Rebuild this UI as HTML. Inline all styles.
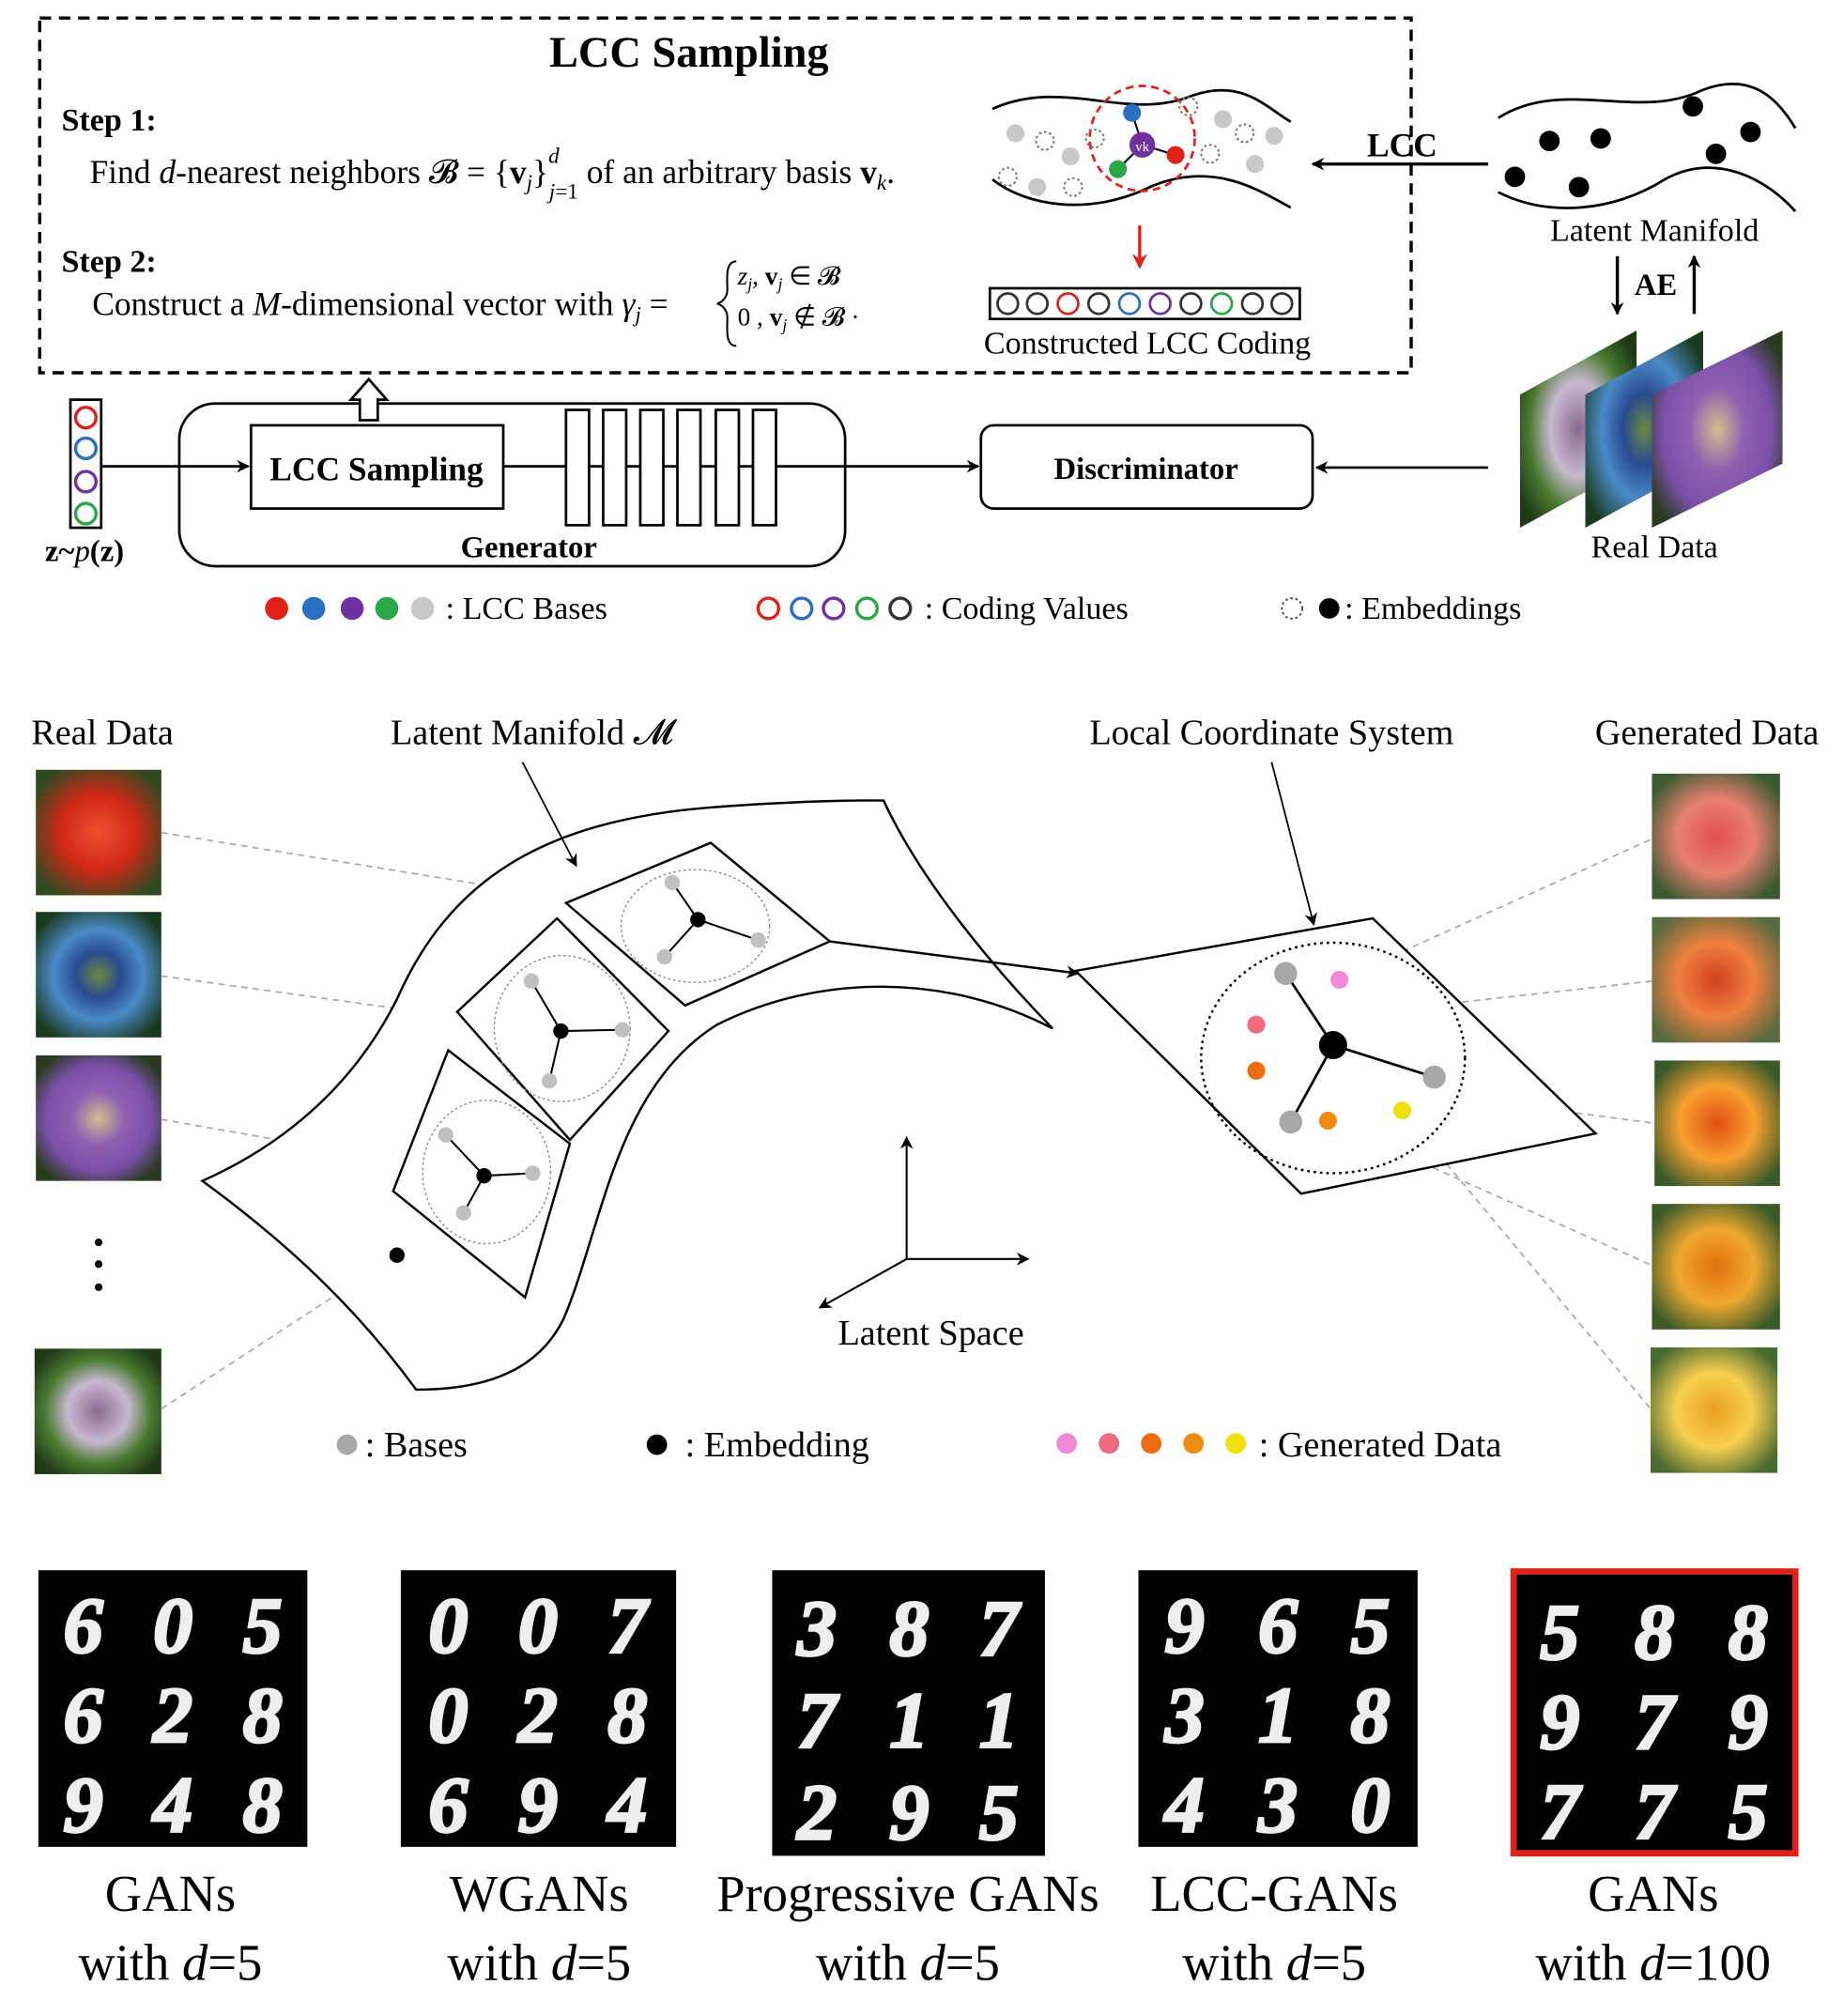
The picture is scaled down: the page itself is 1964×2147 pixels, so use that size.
<!DOCTYPE html>
<html><head><meta charset="utf-8"><style>
html,body{margin:0;padding:0;background:#fff;}
svg{display:block;}
text{font-family:"Liberation Serif",serif;}
</style></head><body>
<svg width="1964" height="2147" viewBox="0 0 1440 1574" xmlns="http://www.w3.org/2000/svg">
<defs>
<marker id="ah" markerWidth="10" markerHeight="10" refX="9" refY="5" orient="auto" markerUnits="userSpaceOnUse"><path d="M0,0 L10,5 L0,10 L3,5 z" fill="#000"/></marker>
<marker id="ahr" markerWidth="12" markerHeight="12" refX="10" refY="6" orient="auto" markerUnits="userSpaceOnUse"><path d="M0,0 L12,6 L0,12 L4,6 z" fill="#e0201a"/></marker>
<radialGradient id="fr" cx="50%" cy="50%" r="60%"><stop offset="0" stop-color="#f05030"/><stop offset="0.5" stop-color="#d02818"/><stop offset="1" stop-color="#2f4a20"/></radialGradient>
<radialGradient id="fb" cx="50%" cy="50%" r="60%"><stop offset="0" stop-color="#6a8a40"/><stop offset="0.3" stop-color="#2a4a90"/><stop offset="0.6" stop-color="#4a8ac8"/><stop offset="1" stop-color="#1a3a20"/></radialGradient>
<radialGradient id="fp" cx="50%" cy="50%" r="60%"><stop offset="0" stop-color="#d0c090"/><stop offset="0.35" stop-color="#9060b0"/><stop offset="0.7" stop-color="#7a50a8"/><stop offset="1" stop-color="#2a3a20"/></radialGradient>
<radialGradient id="fg" cx="50%" cy="50%" r="60%"><stop offset="0" stop-color="#8a6a90"/><stop offset="0.4" stop-color="#c8b8d0"/><stop offset="0.7" stop-color="#4a7a30"/><stop offset="1" stop-color="#203a18"/></radialGradient>
<radialGradient id="g1" cx="50%" cy="50%" r="60%"><stop offset="0" stop-color="#e05050"/><stop offset="0.5" stop-color="#e88070"/><stop offset="1" stop-color="#3a5a30"/></radialGradient>
<radialGradient id="g2" cx="50%" cy="50%" r="60%"><stop offset="0" stop-color="#d04020"/><stop offset="0.5" stop-color="#f08040"/><stop offset="1" stop-color="#5a6a40"/></radialGradient>
<radialGradient id="g3" cx="50%" cy="50%" r="60%"><stop offset="0" stop-color="#e05010"/><stop offset="0.5" stop-color="#f8a030"/><stop offset="1" stop-color="#3a5a28"/></radialGradient>
<radialGradient id="g4" cx="50%" cy="50%" r="60%"><stop offset="0" stop-color="#e07010"/><stop offset="0.5" stop-color="#f0a830"/><stop offset="1" stop-color="#3a5a28"/></radialGradient>
<radialGradient id="g5" cx="50%" cy="50%" r="60%"><stop offset="0" stop-color="#e8a020"/><stop offset="0.5" stop-color="#f8d050"/><stop offset="1" stop-color="#4a6a30"/></radialGradient>
</defs>

<rect x="31" y="14" width="1071" height="277" fill="none" stroke="#000" stroke-width="2.5" stroke-dasharray="9,6"/>
<text x="538" y="52" font-size="34" font-weight="bold" text-anchor="middle">LCC Sampling</text>
<text x="48" y="102" font-size="25" font-weight="bold">Step 1:</text>
<text x="70" y="143" font-size="26">Find <tspan font-style="italic">d</tspan>-nearest neighbors 𝓑 = {<tspan font-weight="bold">v</tspan><tspan font-size="17" dy="5" font-style="italic">j</tspan><tspan dy="-5">}</tspan><tspan font-size="17" dy="-16" font-style="italic">d</tspan><tspan font-size="17" dx="-8" dy="28"><tspan font-style="italic">j</tspan>=1</tspan><tspan dy="-12"> of an arbitrary basis </tspan><tspan font-weight="bold">v</tspan><tspan font-size="17" dy="5" font-style="italic">k</tspan><tspan dy="-5">.</tspan></text>
<text x="48" y="212" font-size="25" font-weight="bold">Step 2:</text>
<text x="72" y="246" font-size="26">Construct a <tspan font-style="italic">M</tspan>-dimensional vector with <tspan font-style="italic">γ</tspan><tspan font-size="17" dy="5" font-style="italic">j</tspan><tspan dy="-5"> = </tspan></text>
<path d="M575,204 C566,204 568,218 568,226 C568,232 564,236 560,237 C564,238 568,242 568,248 C568,256 566,270 575,270" fill="none" stroke="#000" stroke-width="1.5"/>
<text x="576" y="222" font-size="20"><tspan font-style="italic">z</tspan><tspan font-size="13" font-style="italic" dy="4">j</tspan><tspan dy="-4">, </tspan><tspan font-weight="bold">v</tspan><tspan font-size="13" font-style="italic" dy="4">j</tspan><tspan dy="-4"> ∈ 𝓑</tspan></text>
<text x="576" y="254" font-size="20">0 , <tspan font-weight="bold">v</tspan><tspan font-size="13" font-style="italic" dy="4">j</tspan><tspan dy="-4"> ∉ 𝓑  ·</tspan></text>

<g>
<path d="M775,85 C830,60 880,95 930,75 C970,60 990,85 1008,95" fill="none" stroke="#000" stroke-width="2"/>
<path d="M775,140 C800,160 850,170 900,145 C950,125 985,150 1008,162" fill="none" stroke="#000" stroke-width="2"/>
<circle cx="892" cy="108" r="41" fill="none" stroke="#e0201a" stroke-width="2" stroke-dasharray="6,4"/>
<g fill="#c8c8c8"><circle cx="793" cy="104" r="7"/><circle cx="836" cy="122" r="7"/><circle cx="810" cy="146" r="7"/><circle cx="955" cy="93" r="7"/><circle cx="995" cy="106" r="7"/><circle cx="980" cy="128" r="7"/></g>
<g fill="none" stroke="#777" stroke-width="1.5" stroke-dasharray="2,2"><circle cx="816" cy="110" r="7"/><circle cx="787" cy="138" r="7"/><circle cx="838" cy="146" r="7"/><circle cx="855" cy="108" r="7"/><circle cx="928" cy="83" r="7"/><circle cx="972" cy="104" r="7"/><circle cx="945" cy="120" r="7"/></g>
<line x1="884" y1="88" x2="892" y2="113" stroke="#000" stroke-width="1.5"/><line x1="873" y1="132" x2="892" y2="113" stroke="#000" stroke-width="1.5"/><line x1="918" y1="121" x2="892" y2="113" stroke="#000" stroke-width="1.5"/>
<circle cx="884" cy="88" r="7" fill="#2a6fc0"/><circle cx="873" cy="132" r="7" fill="#28a848"/><circle cx="918" cy="121" r="7" fill="#e0201a"/><circle cx="892" cy="113" r="10" fill="#7030a0"/>
<text x="892" y="118" font-size="11" fill="#fff" text-anchor="middle">vk</text>
</g>
<line x1="890" y1="176" x2="890" y2="208" stroke="#e0201a" stroke-width="2.5" marker-end="url(#ahr)"/>
<rect x="773" y="225" width="242" height="24" fill="#fff" stroke="#000" stroke-width="2"/>
<g fill="none" stroke-width="2">
<circle cx="787" cy="237" r="8" stroke="#333"/><circle cx="810" cy="237" r="8" stroke="#333"/><circle cx="834" cy="237" r="8" stroke="#e0201a"/><circle cx="858" cy="237" r="8" stroke="#333"/><circle cx="882" cy="237" r="8" stroke="#2a6fc0"/><circle cx="906" cy="237" r="8" stroke="#7030a0"/><circle cx="930" cy="237" r="8" stroke="#333"/><circle cx="954" cy="237" r="8" stroke="#28a848"/><circle cx="978" cy="237" r="8" stroke="#333"/><circle cx="1001" cy="237" r="8" stroke="#333"/>
</g>
<text x="896" y="276" font-size="25" text-anchor="middle">Constructed LCC Coding</text>
<line x1="1162" y1="128" x2="1025" y2="128" stroke="#000" stroke-width="2.5" marker-end="url(#ah)"/>
<text x="1095" y="122" font-size="26" font-weight="bold" text-anchor="middle">LCC</text>

<g>
<path d="M1170,92 C1220,60 1280,95 1330,70 C1370,55 1390,80 1402,100" fill="none" stroke="#000" stroke-width="2"/>
<path d="M1170,150 C1210,170 1260,165 1300,140 C1340,118 1380,140 1402,165" fill="none" stroke="#000" stroke-width="2"/>
<g fill="#000"><circle cx="1210" cy="110" r="8"/><circle cx="1250" cy="108" r="8"/><circle cx="1183" cy="138" r="8"/><circle cx="1233" cy="146" r="8"/><circle cx="1322" cy="83" r="8"/><circle cx="1367" cy="103" r="8"/><circle cx="1340" cy="120" r="8"/></g>
</g>
<text x="1292" y="188" font-size="25" text-anchor="middle">Latent Manifold</text>
<line x1="1263" y1="200" x2="1263" y2="245" stroke="#000" stroke-width="2.5" marker-end="url(#ah)"/>
<line x1="1323" y1="245" x2="1323" y2="200" stroke="#000" stroke-width="2.5" marker-end="url(#ah)"/>
<text x="1293" y="230" font-size="24" font-weight="bold" text-anchor="middle">AE</text>
<g>
<polygon points="1187,308 1278,258 1278,362 1187,412" fill="url(#fg)"/>
<polygon points="1238,308 1330,258 1330,362 1238,412" fill="url(#fb)"/>
<polygon points="1290,308 1392,258 1392,362 1290,412" fill="url(#fp)"/>
</g>
<text x="1292" y="435" font-size="25" text-anchor="middle">Real Data</text>

<g>
<rect x="55" y="312" width="24" height="100" fill="#fff" stroke="#000" stroke-width="2"/>
<g fill="none" stroke-width="2.5"><circle cx="67" cy="326" r="8" stroke="#e0201a"/><circle cx="67" cy="350" r="8" stroke="#2a6fc0"/><circle cx="67" cy="376" r="8" stroke="#7030a0"/><circle cx="67" cy="401" r="8" stroke="#28a848"/></g>
</g>
<text x="66" y="438" font-size="24" font-weight="bold" text-anchor="middle">z~<tspan font-style="italic" font-weight="normal">p</tspan>(z)</text>
<line x1="79" y1="364" x2="194" y2="364" stroke="#000" stroke-width="2" marker-end="url(#ah)"/>
<rect x="140" y="315" width="520" height="127" rx="28" fill="none" stroke="#000" stroke-width="2"/>
<rect x="196" y="332" width="197" height="65" fill="#fff" stroke="#000" stroke-width="2"/>
<text x="294" y="375" font-size="26" font-weight="bold" text-anchor="middle">LCC Sampling</text>
<line x1="393" y1="364" x2="764" y2="364" stroke="#000" stroke-width="2" marker-end="url(#ah)"/>
<g fill="#fff" stroke="#000" stroke-width="2">
<rect x="442" y="320" width="18" height="90"/><rect x="471" y="320" width="18" height="90"/><rect x="500" y="320" width="18" height="90"/><rect x="529" y="320" width="18" height="90"/><rect x="559" y="320" width="18" height="90"/><rect x="588" y="320" width="18" height="90"/>
</g>
<text x="413" y="435" font-size="24" font-weight="bold" text-anchor="middle">Generator</text>
<path d="M281,328 L281,312 L274,312 L288,296 L302,312 L295,312 L295,328 z" fill="#fff" stroke="#000" stroke-width="2"/>
<rect x="766" y="332" width="259" height="65" rx="10" fill="#fff" stroke="#000" stroke-width="2"/>
<text x="895" y="374" font-size="24" font-weight="bold" text-anchor="middle">Discriminator</text>
<line x1="1162" y1="365" x2="1028" y2="365" stroke="#000" stroke-width="2" marker-end="url(#ah)"/>

<g>
<circle cx="216" cy="475" r="9" fill="#e0201a"/><circle cx="245" cy="475" r="9" fill="#2a6fc0"/><circle cx="275" cy="475" r="9" fill="#7030a0"/><circle cx="302" cy="475" r="9" fill="#28a848"/><circle cx="330" cy="475" r="9" fill="#c8c8c8"/>
<text x="348" y="483" font-size="25">: LCC Bases</text>
<g fill="none" stroke-width="2.5"><circle cx="600" cy="475" r="8" stroke="#e0201a"/><circle cx="626" cy="475" r="8" stroke="#2a6fc0"/><circle cx="651" cy="475" r="8" stroke="#7030a0"/><circle cx="677" cy="475" r="8" stroke="#28a848"/><circle cx="703" cy="475" r="8" stroke="#333"/></g>
<text x="722" y="483" font-size="25">: Coding Values</text>
<circle cx="1009" cy="475" r="8" fill="none" stroke="#555" stroke-width="1.5" stroke-dasharray="2,2"/><circle cx="1038" cy="475" r="8" fill="#000"/>
<text x="1050" y="483" font-size="25">: Embeddings</text>
</g>

<text x="80" y="581" font-size="28" text-anchor="middle">Real Data</text>
<text x="305" y="581" font-size="28">Latent Manifold 𝓜</text>
<text x="993" y="581" font-size="28" text-anchor="middle">Local Coordinate System</text>
<text x="1333" y="581" font-size="28" text-anchor="middle">Generated Data</text>
<g>
<rect x="28" y="601" width="98" height="98" fill="url(#fr)"/><rect x="28" y="712" width="98" height="98" fill="url(#fb)"/><rect x="28" y="824" width="98" height="98" fill="url(#fp)"/><rect x="27" y="1053" width="99" height="98" fill="url(#fg)"/>
<circle cx="77" cy="970" r="3" fill="#000"/><circle cx="77" cy="987" r="3" fill="#000"/><circle cx="77" cy="1005" r="3" fill="#000"/>
</g>
<g>
<rect x="1290" y="604" width="100" height="98" fill="url(#g1)"/><rect x="1290" y="716" width="100" height="98" fill="url(#g2)"/><rect x="1292" y="828" width="98" height="98" fill="url(#g3)"/><rect x="1290" y="940" width="100" height="98" fill="url(#g4)"/><rect x="1289" y="1052" width="99" height="98" fill="url(#g5)"/>
</g>
<g stroke="#aaa" stroke-width="1.3" stroke-dasharray="5,4" fill="none">
<line x1="126" y1="650" x2="545" y2="718"/><line x1="545" y1="718" x2="668" y2="703"/>
<line x1="126" y1="762" x2="438" y2="805"/><line x1="126" y1="874" x2="378" y2="918"/>
<line x1="126" y1="1100" x2="310" y2="980"/>
<line x1="1046" y1="765" x2="1290" y2="655"/><line x1="981" y1="800" x2="1290" y2="766"/>
<line x1="981" y1="836" x2="1292" y2="877"/><line x1="1037" y1="875" x2="1290" y2="988"/><line x1="1095" y1="867" x2="1289" y2="1100"/>
</g>
<path d="M158,922 C230,890 280,840 310,780 C350,690 420,640 560,630 C640,624 690,625 690,625 C720,690 780,760 822,803 C740,760 640,760 560,800 C480,850 470,960 440,1030 C420,1070 380,1085 325,1085 C270,1010 210,960 158,922 z" fill="#fff" stroke="#000" stroke-width="1.8"/>
<g stroke="#000" stroke-width="1.8">
<polygon points="442,705 555,658 648,735 535,785" fill="#fff"/>
<ellipse cx="543" cy="723" rx="58" ry="44" fill="none" stroke="#888" stroke-width="1" stroke-dasharray="2,2"/>
<polygon points="357,790 435,717 522,805 445,890" fill="#fff"/>
<ellipse cx="439" cy="803" rx="53" ry="57" fill="none" stroke="#888" stroke-width="1" stroke-dasharray="2,2"/>
<polygon points="307,930 350,820 445,893 410,1013" fill="#fff"/>
<ellipse cx="380" cy="915" rx="50" ry="56" fill="none" stroke="#888" stroke-width="1" stroke-dasharray="2,2"/>
<g stroke-width="1.5"><line x1="545" y1="718" x2="525" y2="689"/><line x1="545" y1="718" x2="592" y2="734"/><line x1="545" y1="718" x2="519" y2="747"/>
<line x1="438" y1="805" x2="415" y2="766"/><line x1="438" y1="805" x2="486" y2="804"/><line x1="438" y1="805" x2="429" y2="844"/>
<line x1="378" y1="918" x2="348" y2="886"/><line x1="378" y1="918" x2="416" y2="916"/><line x1="378" y1="918" x2="362" y2="947"/></g>
</g>
<g fill="#c0c0c0"><circle cx="525" cy="689" r="6"/><circle cx="592" cy="734" r="6"/><circle cx="519" cy="747" r="6"/><circle cx="415" cy="766" r="6"/><circle cx="486" cy="804" r="6"/><circle cx="429" cy="844" r="6"/><circle cx="348" cy="886" r="6"/><circle cx="416" cy="916" r="6"/><circle cx="362" cy="947" r="6"/></g>
<g fill="#000"><circle cx="545" cy="718" r="6"/><circle cx="438" cy="805" r="6"/><circle cx="378" cy="918" r="6"/><circle cx="310" cy="980" r="6"/></g>
<line x1="408" y1="595" x2="450" y2="676" stroke="#000" stroke-width="1.3" marker-end="url(#ah)"/>
<line x1="648" y1="735" x2="842" y2="760" stroke="#000" stroke-width="1.8" marker-end="url(#ah)"/>
<line x1="993" y1="595" x2="1026" y2="722" stroke="#000" stroke-width="1.3" marker-end="url(#ah)"/>
<g>
<polygon points="840,758 1072,717 1246,885 1016,932" fill="#fff" stroke="#000" stroke-width="1.8"/>
<ellipse cx="1041" cy="826" rx="103" ry="90" fill="none" stroke="#000" stroke-width="1.8" stroke-dasharray="2,3"/>
<g stroke="#000" stroke-width="2"><line x1="1041" y1="816" x2="1004" y2="760"/><line x1="1041" y1="816" x2="1120" y2="841"/><line x1="1041" y1="816" x2="1008" y2="876"/></g>
<circle cx="1004" cy="760" r="9" fill="#a8a8a8"/><circle cx="1120" cy="841" r="9" fill="#a8a8a8"/><circle cx="1008" cy="876" r="9" fill="#a8a8a8"/>
<circle cx="1041" cy="816" r="11" fill="#000"/>
<circle cx="1046" cy="765" r="7" fill="#f08ad8"/><circle cx="981" cy="800" r="7" fill="#f06a80"/><circle cx="981" cy="836" r="7" fill="#f06a10"/><circle cx="1037" cy="875" r="7" fill="#f08a10"/><circle cx="1095" cy="867" r="7" fill="#f0e010"/>
</g>
<g stroke="#000" stroke-width="1.5">
<line x1="708" y1="983" x2="708" y2="888" marker-end="url(#ah)"/><line x1="708" y1="983" x2="803" y2="983" marker-end="url(#ah)"/><line x1="708" y1="983" x2="640" y2="1021" marker-end="url(#ah)"/>
</g>
<text x="727" y="1050" font-size="28" text-anchor="middle">Latent Space</text>
<g>
<circle cx="271" cy="1128" r="8" fill="#a8a8a8"/><text x="285" y="1137" font-size="28">: Bases</text>
<circle cx="513" cy="1128" r="8" fill="#000"/><text x="535" y="1137" font-size="28">: Embedding</text>
<circle cx="833" cy="1127" r="8" fill="#f08ad8"/><circle cx="866" cy="1127" r="8" fill="#f06a80"/><circle cx="899" cy="1127" r="8" fill="#f06a10"/><circle cx="932" cy="1127" r="8" fill="#f08a10"/><circle cx="965" cy="1127" r="8" fill="#f0e010"/>
<text x="983" y="1137" font-size="28">: Generated Data</text>
</g>

<g font-family="Liberation Serif" font-size="62" font-style="italic" font-weight="bold" text-anchor="middle">
<rect x="30" y="1226" width="210" height="216" fill="#000"/>
<g fill="#eee" stroke="#eee" stroke-width="2">
<text x="65" y="1290">6</text><text x="135" y="1290">0</text><text x="205" y="1290">5</text><text x="65" y="1360">6</text><text x="135" y="1360">2</text><text x="205" y="1360">8</text><text x="65" y="1430">9</text><text x="135" y="1430">4</text><text x="205" y="1430">8</text>
</g>
<rect x="313" y="1226" width="215" height="216" fill="#000"/>
<g fill="#eee" stroke="#eee" stroke-width="2">
<text x="350" y="1290">0</text><text x="420" y="1290">0</text><text x="490" y="1290">7</text><text x="350" y="1360">0</text><text x="420" y="1360">2</text><text x="490" y="1360">8</text><text x="350" y="1430">6</text><text x="420" y="1430">9</text><text x="490" y="1430">4</text>
</g>
<rect x="603" y="1226" width="213" height="223" fill="#000"/>
<g fill="#eee" stroke="#eee" stroke-width="2">
<text x="638" y="1292">3</text><text x="710" y="1292">8</text><text x="780" y="1292">7</text><text x="638" y="1364">7</text><text x="710" y="1364">1</text><text x="780" y="1364">1</text><text x="638" y="1436">2</text><text x="710" y="1436">9</text><text x="780" y="1436">5</text>
</g>
<rect x="889" y="1226" width="218" height="216" fill="#000"/>
<g fill="#eee" stroke="#eee" stroke-width="2">
<text x="925" y="1290">9</text><text x="998" y="1290">6</text><text x="1070" y="1290">5</text><text x="925" y="1360">3</text><text x="998" y="1360">1</text><text x="1070" y="1360">8</text><text x="925" y="1430">4</text><text x="998" y="1430">3</text><text x="1070" y="1430">0</text>
</g>
<rect x="1182" y="1227" width="220" height="220" fill="#000" stroke="#e0201a" stroke-width="5"/>
<g fill="#eee" stroke="#eee" stroke-width="2">
<text x="1218" y="1295">5</text><text x="1292" y="1295">8</text><text x="1365" y="1295">8</text><text x="1218" y="1365">9</text><text x="1292" y="1365">7</text><text x="1365" y="1365">9</text><text x="1218" y="1435">7</text><text x="1292" y="1435">7</text><text x="1365" y="1435">5</text>
</g>
</g>
<g font-size="40" text-anchor="middle">
<text x="133" y="1492">GANs</text><text x="133" y="1546">with <tspan font-style="italic">d</tspan>=5</text>
<text x="421" y="1492">WGANs</text><text x="421" y="1546">with <tspan font-style="italic">d</tspan>=5</text>
<text x="709" y="1492">Progressive GANs</text><text x="709" y="1546">with <tspan font-style="italic">d</tspan>=5</text>
<text x="995" y="1492">LCC-GANs</text><text x="995" y="1546">with <tspan font-style="italic">d</tspan>=5</text>
<text x="1291" y="1492">GANs</text><text x="1291" y="1546">with <tspan font-style="italic">d</tspan>=100</text>
</g>
</svg>
</body></html>
